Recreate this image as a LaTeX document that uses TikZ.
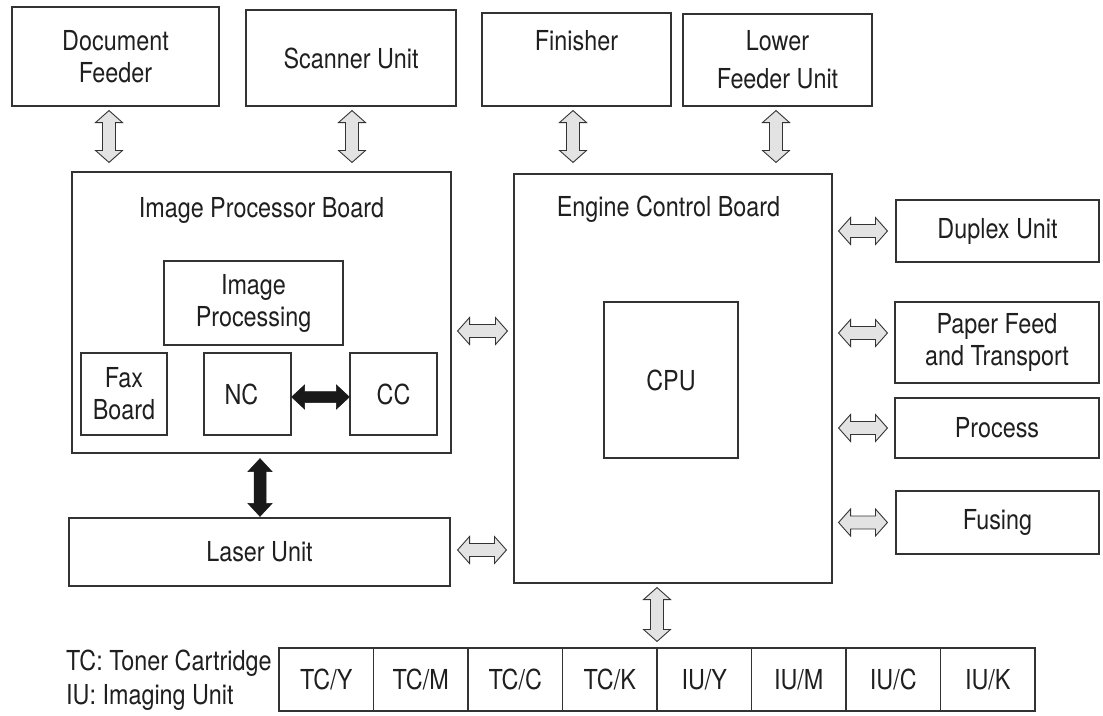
\documentclass[tikz,border=0pt]{standalone}
\usepackage{fontspec}
\setmainfont{TeX Gyre Heros}[FakeStretch=0.85]
\usetikzlibrary{calc}
\begin{document}
\begin{tikzpicture}[x=1pt,y=-1pt,
  every node/.style={font=\fontsize{27.5}{32}\selectfont, text=black!88},
  box/.style={draw=black!80, line width=1.1pt, inner sep=0pt, align=center},
  txt/.style={inner sep=0pt, align=center},
  hollow/.style={draw=black!80, line width=0.9pt, fill=black!11, line join=miter},
  solid/.style={draw=black!90, line width=0.5pt, fill=black!90},
  varr/.style n args={3}{to path={let \p1=(\tikztostart),\p2=(\tikztotarget) in
    (\x1,\y1) -- ({\x1+#1},{\y1-#3}) -- ({\x1+#2},{\y1-#3}) -- ({\x1+#2},{\y2+#3})
    -- ({\x1+#1},{\y2+#3}) -- (\x1,\y2) -- ({\x1-#1},{\y2+#3}) -- ({\x1-#2},{\y2+#3})
    -- ({\x1-#2},{\y1-#3}) -- ({\x1-#1},{\y1-#3}) -- cycle}},
  harr/.style n args={3}{to path={let \p1=(\tikztostart),\p2=(\tikztotarget) in
    (\x1,\y1) -- ({\x1+#3},{\y1+#1}) -- ({\x1+#3},{\y1+#2}) -- ({\x2-#3},{\y1+#2})
    -- ({\x2-#3},{\y1+#1}) -- (\x2,\y1) -- ({\x2-#3},{\y1-#1}) -- ({\x2-#3},{\y1-#2})
    -- ({\x1+#3},{\y1-#2}) -- ({\x1+#3},{\y1-#1}) -- cycle}},
  hv/.style={hollow, varr={13.5pt}{6.5pt}{12pt}},
  hh/.style={hollow, harr={13.5pt}{6.5pt}{12pt}},
  bv/.style={solid, varr={12pt}{6pt}{13pt}},
  bh/.style={solid, harr={12pt}{5.5pt}{13pt}},
]
\useasboundingbox (0,0) rectangle (1103,715);

% top units
\node[box, minimum width=207pt, minimum height=99pt] (df) at (115.5,56.5) {Document\\Feeder};
\node[box, minimum width=210pt, minimum height=96pt] (su) at (351,58) {Scanner Unit};
\node[box, minimum width=189pt, minimum height=93pt] (fin) at (576.5,59.5) {Finisher\\\phantom{Fg}};
\node[box, minimum width=189pt, minimum height=92pt] (lfu) at (777.5,60) {Lower\\[6pt]Feeder Unit};

% image processor board
\node[box, minimum width=379pt, minimum height=281pt] (ipb) at (261.5,312.5) {};
\node[txt] (ipbt) at (261.5,210) {Image Processor Board};
\node[box, minimum width=179pt, minimum height=84pt] (ip) at (253.5,303) {Image\\Processing};
\node[box, minimum width=86pt, minimum height=82pt] (fax) at (124,394) {Fax\\Board};
\node[box, minimum width=87pt, minimum height=82pt] (nc) at (247.5,394) {NC\hspace*{12pt}};
\node[box, minimum width=87pt, minimum height=82pt] (cc) at (393.5,394) {CC};

% engine control board
\node[box, minimum width=318pt, minimum height=409pt] (ecb) at (673,378.5) {};
\node[txt] (ecbt) at (668.5,209) {Engine Control Board};
\node[box, minimum width=134pt, minimum height=156pt] (cpu) at (671,380) {CPU};

% laser unit
\node[box, minimum width=381pt, minimum height=68pt] (laser) at (259.5,552) {Laser Unit};

% right units
\node[box, minimum width=203pt, minimum height=62pt] (dup) at (997.5,231) {Duplex Unit};
\node[box, minimum width=204pt, minimum height=81pt] (pft) at (997,342.5) {Paper Feed\\and Transport};
\node[box, minimum width=204pt, minimum height=60pt] (proc) at (997,428) {Process};
\node[box, minimum width=203pt, minimum height=63pt] (fus) at (997.5,522.5) {Fusing};

% bottom row
\foreach \n/\t [count=\i from 0] in {tcy/TC\slash Y,tcm/TC\slash M,tcc/TC\slash C,tck/TC\slash K,iuy/IU\slash Y,ium/IU\slash M,iuc/IU\slash C,iuk/IU\slash K}
  \node[box, minimum width=94.5pt, minimum height=63pt] (\n) at ({279+47.25+94.5*\i},679.5) {\t};
\node[txt, anchor=west] (lg1) at (66,663) {TC: Toner Cartridge};
\node[txt, anchor=west] (lg2) at (66,697) {IU: Imaging Unit};

% hollow connectors
\draw[hv] ($(df.south -| 109,0)+(0,4)$) to ($(ipb.north -| 109,0)+(0,-9)$);
\draw[hv] ($(su.south -| 352,0)+(0,4)$) to ($(ipb.north -| 352,0)+(0,-9)$);
\draw[hv] ($(fin.south -| 573,0)+(0,4)$) to ($(ecb.north -| 573,0)+(0,-11)$);
\draw[hv] ($(lfu.south -| 776,0)+(0,4)$) to ($(ecb.north -| 776,0)+(0,-11)$);
\draw[hh] ($(ipb.east |- 0,331)+(6,0)$) to ($(ecb.west |- 0,331)+(-6,0)$);
\draw[hh] ($(laser.east |- 0,550)+(7,0)$) to ($(ecb.west |- 0,550)+(-7,0)$);
\draw[hh] ($(ecb.east |- dup.west)+(6,0)$) to ($(dup.west)+(-8,0)$);
\draw[hh] ($(ecb.east |- 0,333)+(6,0)$) to ($(pft.west |- 0,333)+(-7,0)$);
\draw[hh] ($(ecb.east |- proc.west)+(6,0)$) to ($(proc.west)+(-7,0)$);
\draw[hh] ($(ecb.east |- fus.west)+(6,0)$) to ($(fus.west)+(-8,0)$);
\draw[hv] ($(ecb.south -| 657,0)+(0,4)$) to ($(tck.north east)+(-1,-6)$);

% solid connectors
\draw[bh] (nc.east |- 0,397) to (cc.west |- 0,397);
\draw[bv] ($(ipb.south -| 260,0)+(0,5)$) to ($(laser.north -| 260,0)+(0,-1)$);
\end{tikzpicture}
\end{document}
